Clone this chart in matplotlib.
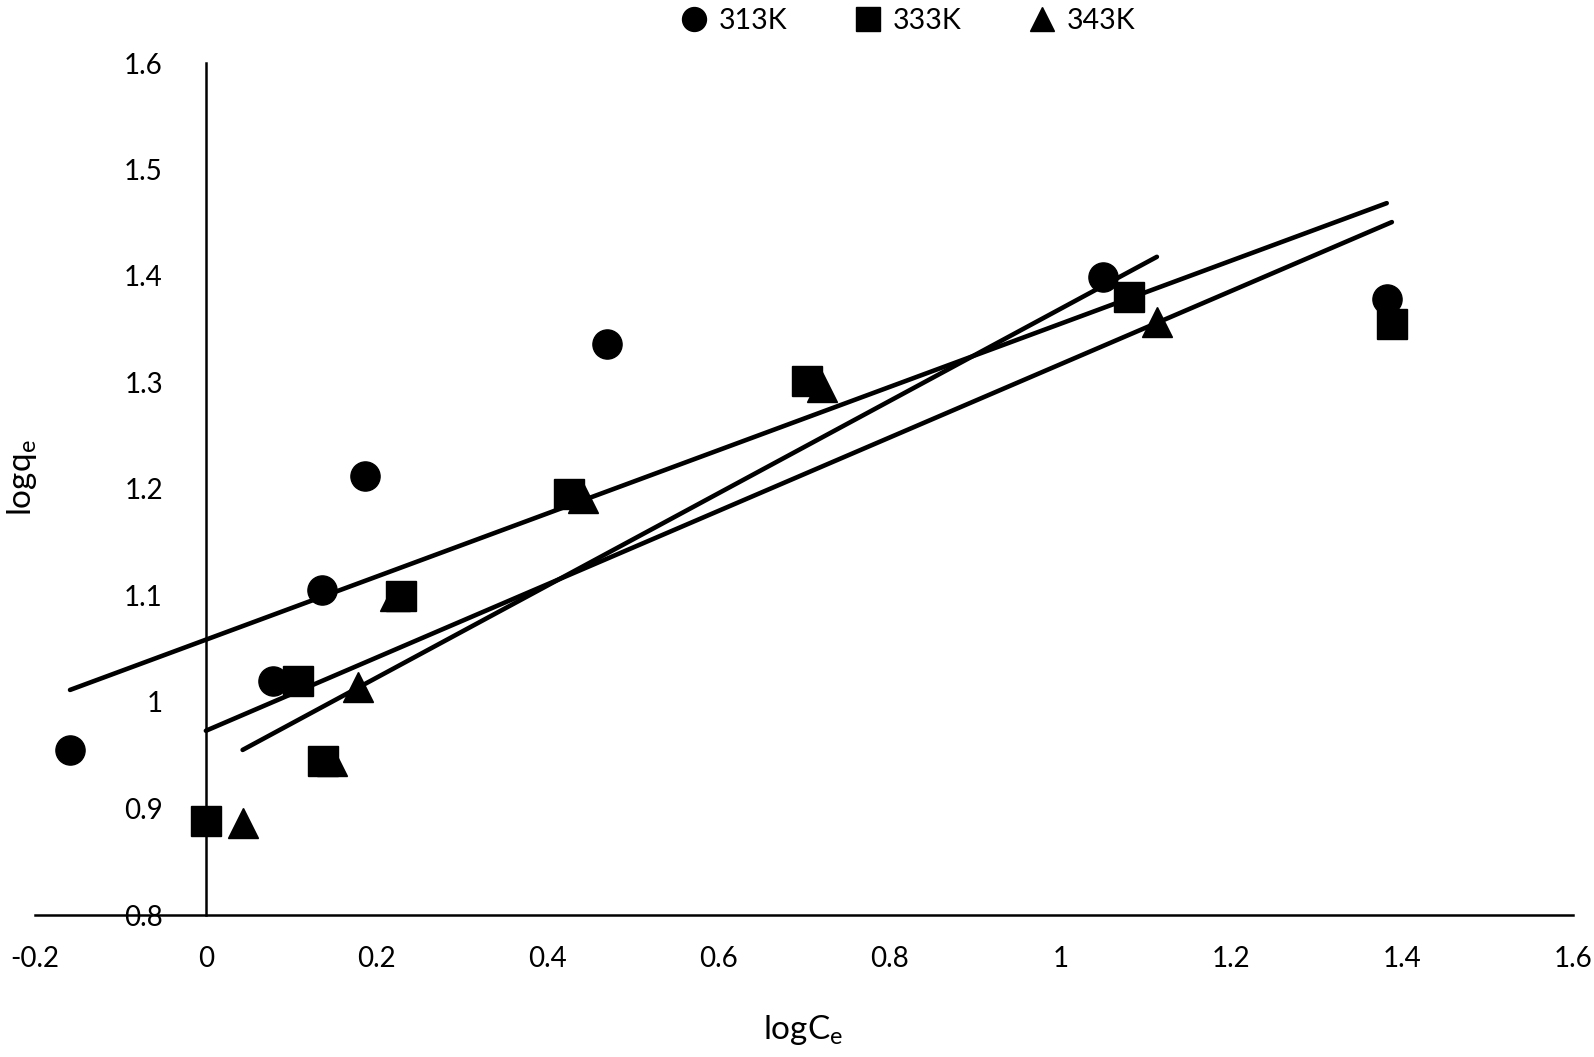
import numpy as np
import matplotlib
matplotlib.use('Agg')
import matplotlib.pyplot as plt
import matplotlib.ticker as ticker

plt.rcParams['font.family'] = ['Lato', 'DejaVu Sans']

# data
x_313 = [-0.159, 0.079, 0.136, 0.186, 0.470, 1.050, 1.382]
y_313 = [0.955, 1.020, 1.105, 1.212, 1.336, 1.399, 1.378]
x_333 = [0.000, 0.108, 0.137, 0.228, 0.425, 0.703, 1.080, 1.388]
y_333 = [0.888, 1.020, 0.945, 1.100, 1.195, 1.301, 1.380, 1.355]
x_343 = [0.043, 0.148, 0.178, 0.221, 0.441, 0.721, 1.113]
y_343 = [0.886, 0.945, 1.014, 1.100, 1.192, 1.296, 1.357]

# trend lines (slope, intercept) as drawn in the original
fit_313 = (0.2966, 1.0585)
fit_333 = (0.3441, 0.9730)
fit_343 = (0.4327, 0.9364)

series = [('313K', 'o', x_313, y_313, fit_313),
          ('333K', 's', x_333, y_333, fit_333),
          ('343K', '^', x_343, y_343, fit_343)]

fig = plt.figure(figsize=(15.94, 10.57), dpi=100)
ax = fig.add_axes([35/1594, 1 - 915/1057, 1538/1594, 852/1057])

for label, mk, xs, ys, (m, b) in series:
    ax.plot(xs, ys, linestyle='none', marker=mk, markersize=21, color='black',
            label=label, zorder=3)
for label, mk, xs, ys, (m, b) in series:
    xx = np.array([min(xs), max(xs)])
    ax.plot(xx, m * xx + b, color='black', linewidth=3.3, solid_capstyle='round', zorder=4)

ax.set_xlim(-0.2, 1.6)
ax.set_ylim(0.8, 1.6)
ax.xaxis.set_major_locator(ticker.MultipleLocator(0.2))
ax.yaxis.set_major_locator(ticker.MultipleLocator(0.1))
fmt = ticker.FuncFormatter(lambda v, p: '{:g}'.format(round(v, 2)))
ax.xaxis.set_major_formatter(fmt)
ax.yaxis.set_major_formatter(fmt)

ax.spines['top'].set_visible(False)
ax.spines['right'].set_visible(False)
ax.spines['left'].set_position(('data', 0))
ax.spines['left'].set_linewidth(1.8)
ax.spines['bottom'].set_linewidth(1.8)
ax.tick_params(axis='y', length=0, pad=31, labelsize=20)
ax.tick_params(axis='x', length=0, pad=22, labelsize=20)

fig.text(803/1594, 1 - 1030/1057, 'logC$_\\mathregular{e}$', fontsize=24,
         ha='center', va='center')
fig.text(22/1594, 1 - 478/1057, 'logq$_\\mathregular{e}$', fontsize=24,
         ha='center', va='center', rotation=90)

fig.legend(loc='upper center', bbox_to_anchor=(906/1594, 1.017), ncol=3,
           frameon=False, fontsize=20.5, markerscale=0.82, handletextpad=0.25,
           columnspacing=2.25, handlelength=1.2)

fig.savefig('out.png', dpi=100)
